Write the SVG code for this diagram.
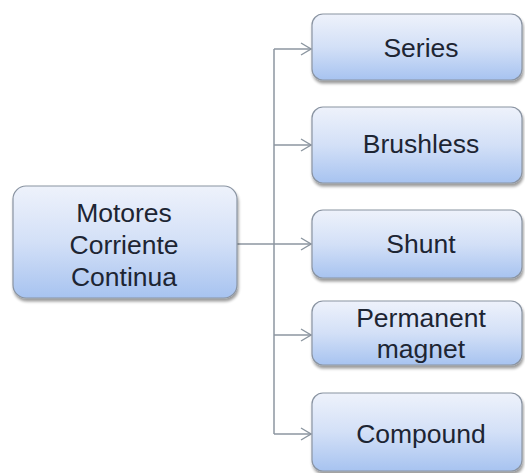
<svg xmlns="http://www.w3.org/2000/svg" width="525" height="473" viewBox="0 0 525 473">
<defs>
<linearGradient id="g" x1="0" y1="0" x2="0" y2="1">
<stop offset="0" stop-color="#eef2fb"/>
<stop offset="0.5" stop-color="#d3e0f7"/>
<stop offset="1" stop-color="#a7c3f0"/>
</linearGradient>
<filter id="sh" x="-10%" y="-10%" width="120%" height="130%">
<feGaussianBlur in="SourceAlpha" stdDeviation="1.5"/>
<feOffset dx="1" dy="2.5" result="b"/>
<feComponentTransfer><feFuncA type="linear" slope="0.4"/></feComponentTransfer>
<feMerge><feMergeNode/><feMergeNode in="SourceGraphic"/></feMerge>
</filter>
<marker id="arr" markerWidth="12" markerHeight="14" refX="11" refY="7" orient="auto" markerUnits="userSpaceOnUse">
<path d="M1,1 L11,7 L1,13" fill="none" stroke="#8c96a0" stroke-width="1.4"/>
</marker>
</defs>
<style>
.box{fill:url(#g);stroke:#8a94a2;stroke-width:1.2;filter:url(#sh)}
.t{font-family:"Liberation Sans",Arial,sans-serif;font-size:26.5px;fill:#1d2533;text-anchor:middle}
.c{fill:none;stroke:#8c96a0;stroke-width:1.5}
</style>
<rect width="525" height="473" fill="#ffffff"/>
<g id="connectors">
<path class="c" d="M237,244 H274"/>
<path class="c" d="M274,49 V434"/>
<path class="c" d="M274,49 H311" marker-end="url(#arr)"/>
<path class="c" d="M274,145 H311" marker-end="url(#arr)"/>
<path class="c" d="M274,244 H311" marker-end="url(#arr)"/>
<path class="c" d="M274,335 H311" marker-end="url(#arr)"/>
<path class="c" d="M274,434 H311" marker-end="url(#arr)"/>
</g>
<g id="motores">
<rect class="box" x="13" y="186" width="224" height="112" rx="13"/>
<text class="t" x="124" y="222">Motores</text>
<text class="t" x="124" y="254">Corriente</text>
<text class="t" x="124" y="286">Continua</text>
</g>
<g id="series">
<rect class="box" x="312" y="14" width="210" height="66" rx="11"/>
<text class="t" x="421" y="57">Series</text>
</g>
<g id="brushless">
<rect class="box" x="312" y="107" width="210" height="76" rx="11"/>
<text class="t" x="421" y="153">Brushless</text>
</g>
<g id="shunt">
<rect class="box" x="312" y="210" width="210" height="68" rx="11"/>
<text class="t" x="421" y="253">Shunt</text>
</g>
<g id="permanent">
<rect class="box" x="312" y="301" width="210" height="64" rx="11"/>
<text class="t" x="421" y="327">Permanent</text>
<text class="t" x="421" y="358">magnet</text>
</g>
<g id="compound">
<rect class="box" x="312" y="393" width="210" height="78" rx="11"/>
<text class="t" x="421" y="443">Compound</text>
</g>
</svg>
